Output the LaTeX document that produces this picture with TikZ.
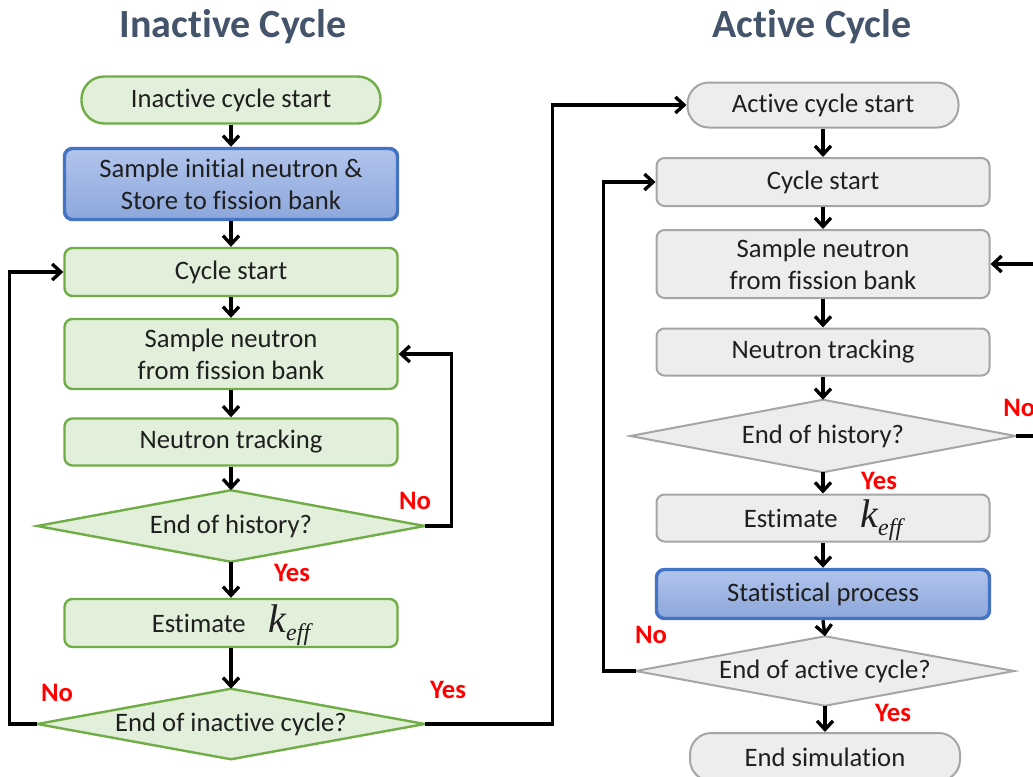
\documentclass[tikz,border=0pt]{standalone}
\usepackage{fontspec}
\setmainfont[Ligatures=NoCommon]{Carlito}
\newfontfamily\tnr{Liberation Serif}
\usetikzlibrary{arrows.meta,backgrounds}
\definecolor{gfill}{HTML}{E2EFDA}
\definecolor{gdraw}{HTML}{70AD47}
\definecolor{bdraw}{HTML}{4472C4}
\definecolor{btop}{HTML}{B1C4EC}
\definecolor{bbot}{HTML}{8DA7DB}
\definecolor{yfill}{HTML}{EDEDED}
\definecolor{ydraw}{HTML}{A5A5A5}
\definecolor{ttl}{HTML}{44546A}
\newcommand\keffbox{Estimate\hspace{17pt}\raisebox{0pt}[0pt][0pt]{\tnr\itshape\fontsize{30}{30}\selectfont k\raisebox{-6pt}{\fontsize{18}{18}\selectfont eff}}}
\tikzset{
  base/.style={font=\fontsize{20}{24}\selectfont, align=center, text=black!88, inner sep=0pt},
  gbox/.style={base, draw=gdraw, fill=gfill, line width=1.8pt, rounded corners=6pt, minimum width=249.75pt},
  ybox/.style={base, draw=ydraw, fill=yfill, line width=1.5pt, rounded corners=6pt, minimum width=249.75pt},
  bbox/.style={base, draw=bdraw, top color=btop, bottom color=bbot, line width=2.6pt, rounded corners=6pt, minimum width=249.75pt},
  gterm/.style={base, draw=gdraw, fill=gfill, line width=1.8pt, rounded corners=17pt},
  yterm/.style={base, draw=ydraw, fill=yfill, line width=1.5pt, rounded corners=16pt},
  dia/.style={base},
  arr/.style={line width=2.5pt, -{Straight Barb[length=6.5pt,width=12pt]}},
  lab/.style={font=\bfseries\fontsize{20}{24}\selectfont, text=red, inner sep=0pt},
  ttlstyle/.style={font=\bfseries\fontsize{30}{36}\selectfont, text=ttl, inner sep=0pt}
}
\begin{document}
\begin{tikzpicture}[x=0.75pt,y=-0.75pt]
\useasboundingbox (0,0) rectangle (1033,776);
% titles
\node[ttlstyle] (t1) at (233,27) {Inactive Cycle};
\node[ttlstyle] (t2) at (812,27) {Active Cycle};
% left column
\node[gterm, minimum width=224.25pt, minimum height=35.25pt] (is) at (231,100) {Inactive cycle start};
\node[bbox, minimum height=53.25pt] (init) at (231,184) {Sample initial neutron \&\\Store to fission bank};
\node[gbox, minimum height=36pt] (cs) at (231,272) {Cycle start};
\node[gbox, minimum height=52.5pt] (sn) at (231,354) {Sample neutron\\from fission bank};
\node[gbox, minimum height=35.25pt] (nt) at (231,442) {Neutron tracking};
\node[dia, minimum width=290.25pt, minimum height=53.25pt] (eh) at (231,526) {End of history?};
\node[gbox, minimum height=36pt] (ek) at (231,623) {\keffbox};
\node[dia, minimum width=290.25pt, minimum height=52.5pt] (ei) at (231,724) {End of inactive cycle?};
% right column
\node[yterm, minimum width=203.25pt, minimum height=33.75pt] (as) at (823,105) {Active cycle start};
\node[ybox, minimum height=36pt] (cs2) at (823,182) {Cycle start};
\node[ybox, minimum height=51pt] (sn2) at (823,264) {Sample neutron\\from fission bank};
\node[ybox, minimum height=35.25pt] (nt2) at (823,352) {Neutron tracking};
\node[dia, minimum width=288.75pt, minimum height=54pt] (eh2) at (823,436) {End of history?};
\node[ybox, minimum height=35.25pt] (ek2) at (823,518) {\keffbox};
\node[bbox, minimum height=36.75pt] (sp) at (823,594) {Statistical process};
\node[dia, minimum width=283.5pt, minimum height=51.75pt] (ea) at (825,671) {End of active cycle?};
\node[yterm, minimum width=202.5pt, minimum height=36pt] (es) at (825,757) {End simulation};
% diamonds
\begin{scope}[on background layer]
\draw[draw=gdraw, fill=gfill, line width=1.8pt] (eh.west) -- (eh.north) -- (eh.east) -- (eh.south) -- cycle;
\draw[draw=gdraw, fill=gfill, line width=1.8pt] (ei.west) -- (ei.north) -- (ei.east) -- (ei.south) -- cycle;
\draw[draw=ydraw, fill=yfill, line width=1.5pt] (eh2.west) -- (eh2.north) -- (eh2.east) -- (eh2.south) -- cycle;
\draw[draw=ydraw, fill=yfill, line width=1.5pt] (ea.west) -- (ea.north) -- (ea.east) -- (ea.south) -- cycle;
\end{scope}
% left connectors
\draw[arr] (is) -- (init);
\draw[arr] (init) -- (cs);
\draw[arr] (cs) -- (sn);
\draw[arr] (sn) -- (nt);
\draw[arr] (nt) -- (eh.north);
\draw[arr] (eh.south) -- (ek);
\draw[arr] (ek) -- (ei.north);
\draw[arr] (eh.east) -- ++(27,0) |- (sn.east);
\draw[arr] (ei.west) -- ++(-28,0) |- (cs.west);
\draw[arr] (ei.east) -- ++(128,0) |- (as.west);
% right connectors
\draw[arr] (as) -- (cs2);
\draw[arr] (cs2) -- (sn2);
\draw[arr] (sn2) -- (nt2);
\draw[arr] (nt2) -- (eh2.north);
\draw[arr] (eh2.south) -- (ek2);
\draw[arr] (ek2) -- (sp);
\draw[arr] (sp.south) -- (ea.north);
\draw[arr] (ea.south) -- (es);
\draw[arr] (ea.west) -- ++(-32,0) |- (cs2.west);
\draw[arr] (eh2.east) -- ++(40,0) |- (sn2.east);
% labels
\node[lab] (l1) at (415,501) {No};
\node[lab] (l2) at (292,573) {Yes};
\node[lab] (l3) at (57,693) {No};
\node[lab] (l4) at (448,690) {Yes};
\node[lab, anchor=west] (l5) at (1003,408) {No};
\node[lab] (l6) at (879,481) {Yes};
\node[lab] (l7) at (651,635) {No};
\node[lab] (l8) at (893,713) {Yes};
\end{tikzpicture}
\end{document}
